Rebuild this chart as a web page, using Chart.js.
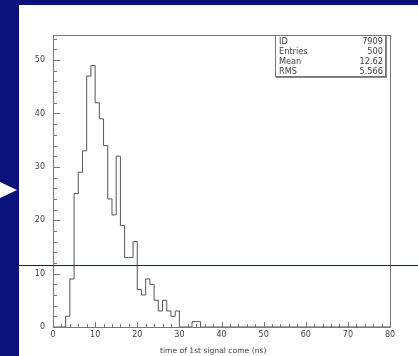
<!DOCTYPE html>
<html>
<head>
<meta charset="utf-8">
<script src="https://cdn.jsdelivr.net/npm/chart.js@4"></script>
<style>
  html, body { margin: 0; padding: 0; }
  body { width: 418px; height: 356px; background: #0b127a; position: relative; overflow: hidden; font-family: "DejaVu Sans", sans-serif; }
  #page { position: absolute; left: 19px; top: 5px; right: 0; bottom: 0; background: #fff; }
  #chartCanvas { position: absolute; left: 0; top: 0; }
  #arrow { position: absolute; left: 0; top: 182px; width: 0; height: 0;
           border-top: 8px solid transparent; border-bottom: 8px solid transparent; border-left: 17px solid #fff; }
  #rule { position: absolute; left: 19px; right: 0; top: 265px; height: 1px; background: #10187e; }
  #stats { position: absolute; left: 275px; top: 35px; width: 109px; height: 40px; background: #fff;
           border: 1px solid #777; box-shadow: 1px 1px 0 #888; font-size: 8.2px; color: #444; }
  #stats .row { position: absolute; left: 3px; right: 2px; height: 10px; line-height: 10px; }
  #stats .row span:last-child { position: absolute; right: 0; }
  #xTitle { position: absolute; left: 160px; top: 346px; font-size: 7.6px; line-height: 9px; color: #444; white-space: nowrap; }
</style>
</head>
<body>
<div id="page"></div>
<div id="arrow"></div>
<canvas id="chartCanvas" width="418" height="356"></canvas>
<div id="stats"></div>
<div id="xTitle">time of 1st signal come (ns)</div>
<div id="rule"></div>
<script>
// ==========================================
// Histogram data (1 ns bins starting at 0)
// ==========================================
const binLow = 0;
const binWidth = 1;
const counts = [0, 0, 0, 2, 9, 25, 29, 33, 47, 49, 42, 39, 34, 24, 21, 32, 19, 13, 13, 16,
                7, 6, 9, 8, 5, 3, 5, 3, 2, 3, 0, 0, 0, 1, 1];
const xRange = [0, 80];
const yRange = [0, 54.7];
const xTicks = [0, 10, 20, 30, 40, 50, 60, 70, 80];
const yTicks = [0, 10, 20, 30, 40, 50];
const statsRows = [["ID", "7909"], ["Entries", "500"], ["Mean", "12.62"], ["RMS", "5.566"]];

// Stats box
const statsBox = document.getElementById("stats");
statsRows.forEach((r, i) => {
    const row = document.createElement("div");
    row.className = "row";
    row.style.top = i * 10 + "px";
    row.innerHTML = "<span>" + r[0] + "</span><span>" + r[1] + "</span>";
    statsBox.appendChild(row);
});

// Bin edges -> stepped outline points
const points = counts.map((c, i) => ({ x: binLow + i * binWidth, y: c }));
points.push({ x: binLow + counts.length * binWidth, y: 0 });
points.push({ x: xRange[1], y: 0 });

// =====================================================
// Frame + inside ticks (major every 10, minor every 2)
// =====================================================
const framePlugin = {
    id: "frame",
    afterDatasetsDraw(chart) {
        const { ctx, chartArea: a, scales } = chart;
        ctx.save();
        ctx.strokeStyle = "#777";
        ctx.lineWidth = 1;
        ctx.beginPath();
        for (let v = xRange[0]; v <= xRange[1]; v += 2) {
            const px = Math.round(scales.x.getPixelForValue(v)) + 0.5;
            const len = v % 10 === 0 ? 5 : 3;
            ctx.moveTo(px, a.bottom);
            ctx.lineTo(px, a.bottom - len);
        }
        for (let v = yRange[0]; v <= yRange[1]; v += 2) {
            const py = Math.round(scales.y.getPixelForValue(v)) + 0.5;
            const len = v % 10 === 0 ? 7 : 4;
            ctx.moveTo(a.left, py);
            ctx.lineTo(a.left + len, py);
        }
        ctx.stroke();
        ctx.strokeRect(Math.round(a.left) + 0.5, Math.round(a.top) + 0.5,
                       Math.round(a.right - a.left), Math.round(a.bottom - a.top));
        ctx.restore();
    }
};

// =====================================================
// Chart.js Setup
// =====================================================
Chart.defaults.font.family = "'DejaVu Sans', sans-serif";
Chart.defaults.font.size = 8;
Chart.defaults.color = "#444";

const ctx = document.getElementById("chartCanvas").getContext("2d");

new Chart(ctx, {
    type: "line",
    data: {
        datasets: [{
            data: points,
            stepped: "before",
            borderColor: "#555",
            borderWidth: 1,
            pointRadius: 0,
            fill: false
        }]
    },
    options: {
        responsive: false,
        animation: false,
        layout: { padding: { left: 0, right: 28, top: 35, bottom: 0 } },
        plugins: { legend: { display: false }, tooltip: { enabled: false } },
        scales: {
            x: {
                type: "linear",
                min: xRange[0],
                max: xRange[1],
                afterBuildTicks: s => { s.ticks = xTicks.map(v => ({ value: v })); },
                afterFit: s => { s.height = 29; },
                grid: { display: false, drawTicks: false },
                border: { display: false },
                ticks: { padding: 3, maxRotation: 0, autoSkip: false }
            },
            y: {
                type: "linear",
                min: yRange[0],
                max: yRange[1],
                afterBuildTicks: s => { s.ticks = yTicks.map(v => ({ value: v })); },
                afterFit: s => { s.width = 53; },
                grid: { display: false, drawTicks: false },
                border: { display: false },
                ticks: { padding: 8 }
            }
        }
    },
    plugins: [framePlugin]
});
</script>
</body>
</html>
